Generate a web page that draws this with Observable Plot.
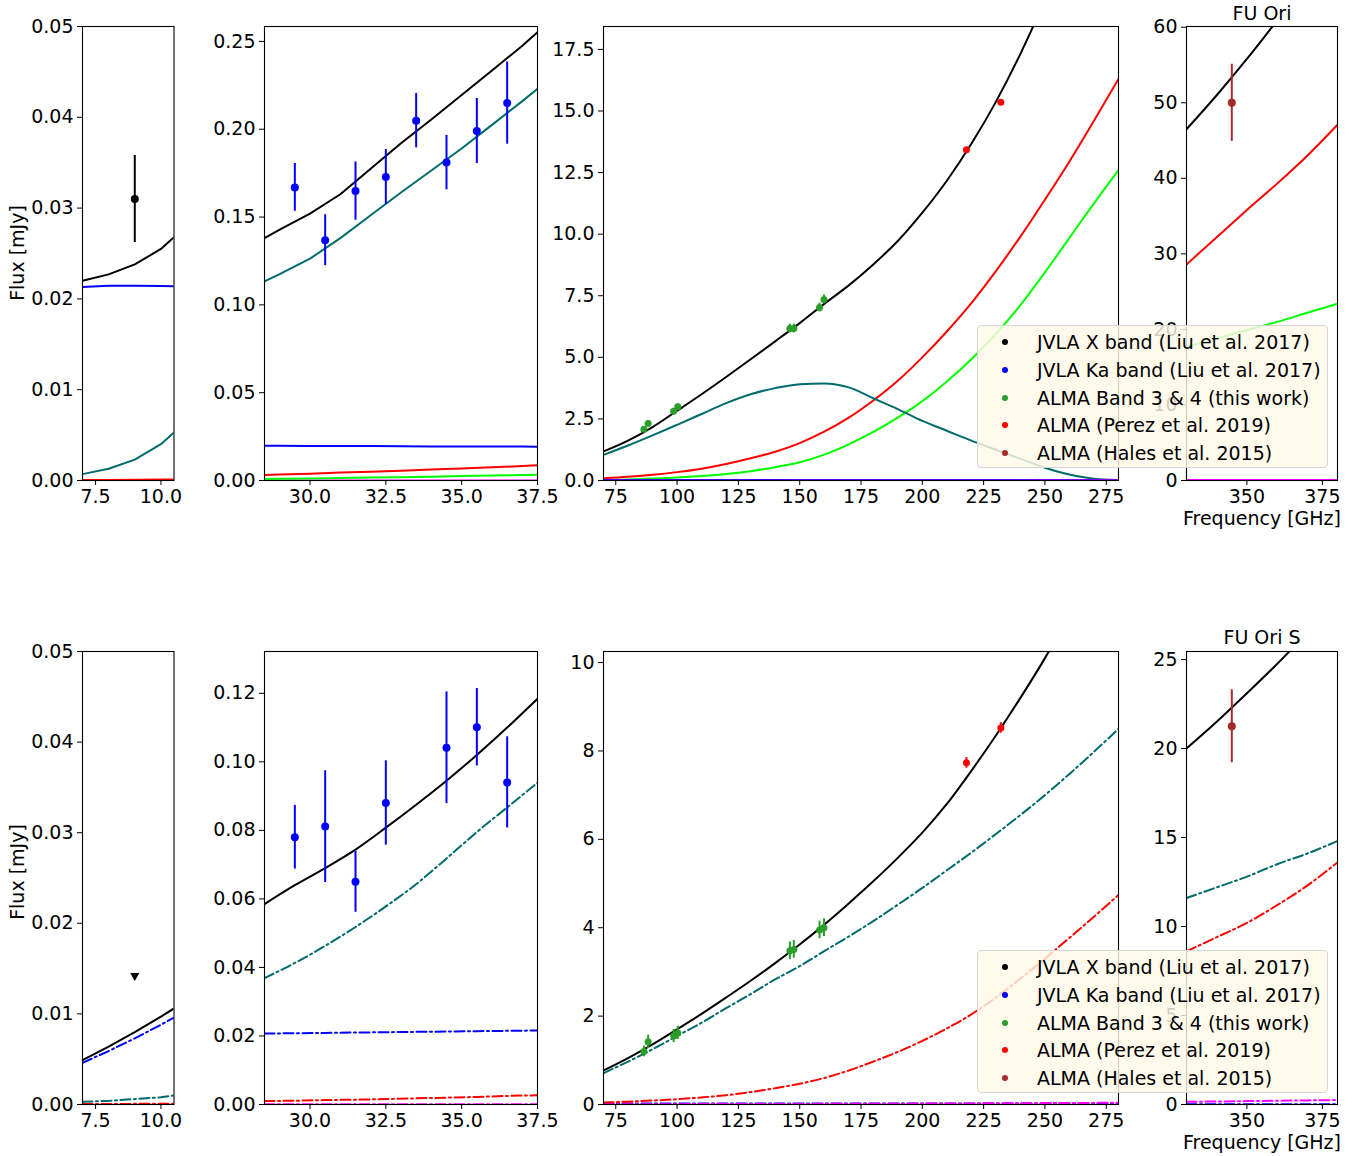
<!DOCTYPE html>
<html><head><meta charset="utf-8">
<script src="https://cdn.jsdelivr.net/npm/d3@7"></script>
<script src="https://cdn.jsdelivr.net/npm/@observablehq/plot@0.6"></script>
<style>
body{margin:0;background:#fff;}
#wrap{position:relative;width:1366px;height:1156px;font-family:"DejaVu Sans",sans-serif;color:#000;overflow:hidden;}
.panel{position:absolute;}
.panel svg{overflow:visible;display:block;max-width:none !important;}
.txt{position:absolute;font-size:19px;white-space:nowrap;transform:translate(-50%,-50%);line-height:1;}
.vtxt{position:absolute;font-size:19px;white-space:nowrap;transform:translate(-50%,-50%) rotate(-90deg);line-height:1;}
.legend{position:absolute;box-sizing:border-box;width:351px;height:143px;background:rgba(255,249,232,0.82);border:1px solid #d6d6d6;border-radius:4px;}
.legend .dot{position:absolute;left:24px;width:6px;height:6px;border-radius:50%;transform:translateY(-50%);}
.legend .lab{position:absolute;left:59px;white-space:nowrap;transform:translateY(-50%);font-size:19px;line-height:1;}
</style></head>
<body><div id="wrap"></div>
<script>
// ---------------- DATA: FU Ori (top row) ----------------
const legendLabels = ["JVLA X band (Liu et al. 2017)", "JVLA Ka band (Liu et al. 2017)", "ALMA Band 3 & 4 (this work)", "ALMA (Perez et al. 2019)", "ALMA (Hales et al. 2015)"];
const legendColors = ["#000000", "#0000ff", "#2a9d2a", "#ff0000", "#a52a2a"];

// Panel A (X band)
const freqA = [7, 8, 9, 10, 10.5];
const totA = [0.0220, 0.0227, 0.0238, 0.0255, 0.0268];
const blueA = [0.02130, 0.02145, 0.02146, 0.02142, 0.02138];
const tealA = [0.0007, 0.0013, 0.0023, 0.0040, 0.0053];
const redA = [0.00005, 0.00006, 0.00008, 0.00010, 0.00011];
const limeA = [0.00001, 0.00002, 0.00002, 0.00003, 0.00003];
const magA = [0, 0, 0, 0, 0];
const ptXA = [9];
const ptYA = [0.031];
const ptEA = [0.0048];

// Panel B (Ka band)
const freqB = [28.5, 29, 30, 31, 32, 33, 34, 35, 36, 37, 37.5];
const totB = [0.138, 0.1428, 0.152, 0.163, 0.1775, 0.192, 0.2055, 0.2195, 0.2335, 0.2475, 0.2553];
const tealB = [0.1134, 0.1175, 0.1263, 0.138, 0.151, 0.164, 0.1765, 0.189, 0.2025, 0.216, 0.223];
const blueB = [0.0198, 0.0198, 0.0197, 0.0196, 0.0196, 0.0195, 0.0194, 0.0194, 0.0193, 0.0193, 0.0192];
const redB = [0.0032, 0.0034, 0.0039, 0.0045, 0.0050, 0.0056, 0.0062, 0.0068, 0.0075, 0.0082, 0.0087];
const limeB = [0.0009, 0.0010, 0.0012, 0.0014, 0.0017, 0.0019, 0.0022, 0.0025, 0.0028, 0.0031, 0.0033];
const magB = [0, 0, 0, 0, 0, 0, 0, 0, 0, 0, 0];
const ptXB = [29.5, 30.5, 31.5, 32.5, 33.5, 34.5, 35.5, 36.5];
const ptYB = [0.1669, 0.1368, 0.1648, 0.1728, 0.2049, 0.1810, 0.1990, 0.2149];
const ptEB = [0.0136, 0.0145, 0.0166, 0.0156, 0.0155, 0.0155, 0.0185, 0.0234];

// Panel C (ALMA bands 3-6)
const freqC = [70, 80, 90, 100, 110, 120, 130, 140, 150, 160, 170, 180, 190, 200, 210, 220, 230, 240, 250, 260, 270, 280];
const totC = [1.18, 1.62, 2.17, 2.83, 3.5, 4.2, 4.92, 5.65, 6.39, 7.17, 7.92, 8.77, 9.72, 10.87, 12.17, 13.67, 15.37, 17.32, 19.52, 21.97, 24.7, 27.7];
const tealC = [1.04, 1.42, 1.83, 2.26, 2.7, 3.14, 3.5, 3.75, 3.91, 3.94, 3.78, 3.34, 2.9, 2.42, 2.02, 1.62, 1.25, 0.88, 0.52, 0.24, 0.07, 0.02];
const redC = [0.09, 0.15, 0.23, 0.34, 0.48, 0.67, 0.9, 1.17, 1.52, 1.98, 2.55, 3.25, 4.05, 5.0, 6.05, 7.2, 8.5, 9.9, 11.4, 12.95, 14.6, 16.3];
const limeC = [0.01, 0.04, 0.08, 0.12, 0.18, 0.26, 0.38, 0.54, 0.74, 1.05, 1.47, 1.97, 2.55, 3.22, 4.02, 4.92, 5.95, 7.12, 8.45, 9.85, 11.25, 12.6];
const blueC = [0.020, 0.020, 0.020, 0.020, 0.019, 0.019, 0.019, 0.019, 0.019, 0.019, 0.018, 0.018, 0.018, 0.018, 0.018, 0.018, 0.018, 0.017, 0.017, 0.017, 0.017, 0.017];
const magC = [0.001, 0.001, 0.002, 0.002, 0.003, 0.003, 0.004, 0.005, 0.006, 0.007, 0.008, 0.009, 0.010, 0.011, 0.012, 0.013, 0.014, 0.015, 0.016, 0.018, 0.019, 0.020];
const grnXC = [86.5, 88.2, 98.6, 100.3, 146, 147.6, 158.1, 159.9];
const grnYC = [2.08, 2.31, 2.81, 2.99, 6.17, 6.17, 7.02, 7.35];
const grnEC = [0.1, 0.12, 0.12, 0.12, 0.18, 0.18, 0.18, 0.18];
const redXC = [218, 232];
const redYC = [13.43, 15.35];
const redEC = [0.1, 0.1];

// Panel D (Band 7)
const freqD = [330, 340, 350, 360, 370, 380];
const totD = [46.5, 51.0, 55.8, 60.9, 66.2, 71.8];
const redD = [28.6, 32.2, 35.8, 39.3, 43.0, 47.1];
const limeD = [17.7, 18.8, 19.9, 21.0, 22.2, 23.4];
const tealD = [0.01, 0.01, 0.01, 0.0, 0.0, 0.0];
const blueD = [0.016, 0.016, 0.016, 0.016, 0.016, 0.016];
const magD = [0.05, 0.05, 0.06, 0.06, 0.07, 0.07];
const brnXD = [345];
const brnYD = [50.0];
const brnED = [5.1];

// ---------------- DATA: FU Ori S (bottom row) ----------------
const freqE = [7, 8, 9, 10, 10.5];
const totE = [0.0049, 0.0064, 0.0080, 0.0097, 0.0106];
const blueE = [0.0046, 0.0059, 0.0073, 0.0088, 0.0096];
const tealE = [0.0003, 0.0004, 0.0006, 0.0008, 0.0010];
const redE = [0.00005, 0.00006, 0.00007, 0.00008, 0.00009];
const magE = [0, 0, 0, 0, 0];
const limXE = [9];
const limYE = [0.0141];

const freqF = [28.5, 29.5, 30.5, 31.5, 32.5, 33.5, 34.5, 35.5, 36.5, 37.5];
const totF = [0.0585, 0.0640, 0.0690, 0.0744, 0.0808, 0.0875, 0.0945, 0.1020, 0.1100, 0.1184];
const tealF = [0.0369, 0.0413, 0.0463, 0.0518, 0.0578, 0.0643, 0.0718, 0.0795, 0.0867, 0.0939];
const blueF = [0.0207, 0.0208, 0.0209, 0.0210, 0.0211, 0.0212, 0.0213, 0.0214, 0.0215, 0.0216];
const redF = [0.0010, 0.0011, 0.0013, 0.0014, 0.0016, 0.0018, 0.0020, 0.0022, 0.0025, 0.0027];
const magF = [0.0001, 0.0001, 0.0001, 0.0001, 0.0001, 0.0001, 0.0001, 0.0001, 0.0001, 0.0001];
const ptXF = [29.5, 30.5, 31.5, 32.5, 34.5, 35.5, 36.5];
const ptYF = [0.0780, 0.0811, 0.0650, 0.0880, 0.1041, 0.1101, 0.0940];
const ptEF = [0.0093, 0.0163, 0.0089, 0.0123, 0.0163, 0.0113, 0.0133];

const freqG = [70, 80, 90, 100, 110, 120, 130, 140, 150, 160, 170, 180, 190, 200, 210, 220, 230, 240, 250, 260, 270, 280];
const totG = [0.77, 1.05, 1.36, 1.70, 2.05, 2.42, 2.8, 3.2, 3.62, 4.07, 4.55, 5.05, 5.58, 6.15, 6.8, 7.55, 8.35, 9.2, 10.1, 11.1, 12.2, 13.4];
const tealG = [0.71, 0.97, 1.25, 1.55, 1.85, 2.18, 2.5, 2.83, 3.13, 3.47, 3.8, 4.15, 4.52, 4.9, 5.3, 5.7, 6.12, 6.55, 7.0, 7.48, 7.98, 8.5];
const redG = [0.045, 0.065, 0.09, 0.12, 0.16, 0.21, 0.28, 0.37, 0.47, 0.6, 0.77, 0.97, 1.19, 1.44, 1.72, 2.04, 2.42, 2.85, 3.3, 3.77, 4.25, 4.74];
const blueG = [0.022, 0.022, 0.022, 0.022, 0.022, 0.022, 0.022, 0.022, 0.021, 0.021, 0.021, 0.021, 0.021, 0.021, 0.021, 0.021, 0.021, 0.021, 0.021, 0.021, 0.021, 0.021];
const magG = [0.005, 0.006, 0.007, 0.008, 0.009, 0.010, 0.011, 0.012, 0.013, 0.015, 0.016, 0.018, 0.019, 0.021, 0.023, 0.025, 0.027, 0.029, 0.032, 0.034, 0.037, 0.040];
const grnXG = [86.5, 88.2, 98.6, 100.3, 146, 147.6, 158.1, 159.9];
const grnYG = [1.20, 1.42, 1.55, 1.62, 3.48, 3.51, 3.95, 4.00];
const grnEG = [0.12, 0.15, 0.15, 0.15, 0.2, 0.2, 0.2, 0.2];
const redXG = [218, 232];
const redYG = [7.73, 8.52];
const redEG = [0.12, 0.12];

const freqH = [330, 340, 350, 360, 370, 380];
const totH = [20.0, 21.5, 23.1, 24.75, 26.5, 28.3];
const tealH = [11.6, 12.2, 12.8, 13.5, 14.1, 14.8];
const redH = [8.6, 9.4, 10.2, 11.2, 12.3, 13.6];
const blueH = [0.02, 0.02, 0.02, 0.02, 0.02, 0.02];
const magH = [0.15, 0.17, 0.19, 0.21, 0.23, 0.25];
const brnXH = [345];
const brnYH = [21.25];
const brnEH = [2.05];

// ---------------- tick labels ----------------
const ticksXA = [7.5, 10.0];
const ticksXB = [30.0, 32.5, 35.0, 37.5];
const ticksXC = [75, 100, 125, 150, 175, 200, 225, 250, 275];
const ticksXD = [350, 375];
const ticksYA = [0, 0.01, 0.02, 0.03, 0.04, 0.05];
const ticksYB = [0, 0.05, 0.10, 0.15, 0.20, 0.25];
const ticksYC = [0, 2.5, 5, 7.5, 10, 12.5, 15, 17.5];
const ticksYD = [0, 10, 20, 30, 40, 50, 60];
const ticksYF = [0, 0.02, 0.04, 0.06, 0.08, 0.10, 0.12];
const ticksYG = [0, 2, 4, 6, 8, 10];
const ticksYH = [0, 5, 10, 15, 20, 25];

// ---------------- rendering ----------------
const C = {black: "#000000", blue: "#0000ff", teal: "#006b6b", red: "#ff0000", lime: "#00ff00", mag: "#ff00ff", green: "#2a9d2a", brown: "#a52a2a"};
const DASHDOT = "10,3.5,2,3.5";
const wrap = document.getElementById("wrap");

function ln(xs, ys, color, opts = {}) {
  return Plot.line(xs, {x: xs, y: ys, stroke: color, strokeWidth: 2, curve: opts.curve || "linear", strokeDasharray: opts.dash || null, clip: true});
}
function pts(xs, ys, es, color, r = 4) {
  const marks = [];
  if (es) marks.push(Plot.ruleX(xs, {x: xs, y1: ys.map((v, i) => v - es[i]), y2: ys.map((v, i) => v + es[i]), stroke: color, strokeWidth: 2, clip: true}));
  marks.push(Plot.dot(xs, {x: xs, y: ys, r, fill: color, stroke: null, clip: true}));
  return marks;
}
const triDown = {draw(ctx, size) { const s = Math.sqrt(size) * 0.95; ctx.moveTo(0, s * 0.55); ctx.lineTo(-s * 0.6, -s * 0.5); ctx.lineTo(s * 0.6, -s * 0.5); ctx.closePath(); }};

function panel(box, xDomain, yDomain, xTicks, yTicks, xFmt, yFmt, marks) {
  const mL = 70, mR = 30, mT = 12, mB = 45;
  const w = box.r - box.l, h = box.b - box.t;
  const svg = Plot.plot({
    width: w + mL + mR, height: h + mT + mB,
    marginLeft: mL, marginRight: mR, marginTop: mT, marginBottom: mB,
    style: {fontFamily: "'DejaVu Sans', sans-serif", fontSize: "19px", background: "transparent", color: "#000", overflow: "visible", maxWidth: "none"},
    x: {domain: xDomain, ticks: xTicks, tickFormat: d3.format(xFmt), tickSize: 5, tickPadding: 4, label: null},
    y: {domain: yDomain, ticks: yTicks, tickFormat: d3.format(yFmt), tickSize: 5, tickPadding: 4, label: null},
    marks: [...marks, Plot.frame({stroke: "#000", strokeWidth: 1.1})]
  });
  svg.style.maxWidth = "none";
  svg.style.width = (w + mL + mR) + "px";
  svg.style.height = (h + mT + mB) + "px";
  const div = document.createElement("div");
  div.className = "panel";
  div.style.left = (box.l - mL) + "px";
  div.style.top = (box.t - mT) + "px";
  div.style.width = (w + mL + mR) + "px";
  div.style.height = (h + mT + mB) + "px";
  div.appendChild(svg);
  wrap.appendChild(div);
}

const TT = 26, TB = 480, BT = 651, BB = 1104;
const XA = {l: 82, r: 173.5}, XB = {l: 263.5, r: 536.5}, XC = {l: 603, r: 1118}, XD = {l: 1186, r: 1337};

// Top row
panel({...XA, t: TT, b: TB}, [7, 10.5], [0, 0.05], ticksXA, ticksYA, ".1f", ".2f", [
  ln(freqA, magA, C.mag), ln(freqA, limeA, C.lime), ln(freqA, redA, C.red), ln(freqA, blueA, C.blue), ln(freqA, tealA, C.teal), ln(freqA, totA, C.black),
  ...pts(ptXA, ptYA, ptEA, C.black)
]);
panel({...XB, t: TT, b: TB}, [28.5, 37.5], [0, 0.2585], ticksXB, ticksYB, ".1f", ".2f", [
  ln(freqB, magB, C.mag), ln(freqB, limeB, C.lime), ln(freqB, redB, C.red), ln(freqB, blueB, C.blue), ln(freqB, tealB, C.teal), ln(freqB, totB, C.black),
  ...pts(ptXB, ptYB, ptEB, C.blue)
]);
panel({...XC, t: TT, b: TB}, [70, 280], [0, 18.43], ticksXC, ticksYC, "d", ".1f", [
  ln(freqC, limeC, C.lime, {curve: "monotone-x"}), ln(freqC, redC, C.red, {curve: "monotone-x"}), ln(freqC, tealC, C.teal, {curve: "monotone-x"}),
  ln(freqC, blueC, C.blue), ln(freqC, magC, "#8a00ff"), ln(freqC, totC, C.black, {curve: "monotone-x"}),
  ...pts(grnXC, grnYC, grnEC, C.green, 3.5), ...pts(redXC, redYC, redEC, C.red, 3.5)
]);
panel({...XD, t: TT, b: TB}, [330, 380], [0, 60.1], ticksXD, ticksYD, "d", "d", [
  ln(freqD, tealD, C.teal), ln(freqD, blueD, C.blue), ln(freqD, magD, C.mag),
  ln(freqD, limeD, C.lime, {curve: "monotone-x"}), ln(freqD, redD, C.red, {curve: "monotone-x"}), ln(freqD, totD, C.black, {curve: "monotone-x"}),
  ...pts(brnXD, brnYD, brnED, C.brown, 4)
]);

// Bottom row
panel({...XA, t: BT, b: BB}, [7, 10.5], [0, 0.05], ticksXA, ticksYA, ".1f", ".2f", [
  ln(freqE, magE, C.mag, {dash: DASHDOT}), ln(freqE, redE, C.red, {dash: DASHDOT}), ln(freqE, tealE, C.teal, {dash: DASHDOT}),
  ln(freqE, totE, C.black), ln(freqE, blueE, C.blue, {dash: DASHDOT}),
  Plot.dot(limXE, {x: limXE, y: limYE, symbol: triDown, r: 4.5, fill: C.black, stroke: null})
]);
panel({...XB, t: BT, b: BB}, [28.5, 37.5], [0, 0.1322], ticksXB, ticksYF, ".1f", ".2f", [
  ln(freqF, magF, C.mag, {dash: DASHDOT}), ln(freqF, redF, C.red, {dash: DASHDOT}), ln(freqF, blueF, C.blue, {dash: DASHDOT}),
  ln(freqF, tealF, C.teal, {dash: DASHDOT, curve: "monotone-x"}), ln(freqF, totF, C.black, {curve: "monotone-x"}),
  ...pts(ptXF, ptYF, ptEF, C.blue)
]);
panel({...XC, t: BT, b: BB}, [70, 280], [0, 10.25], ticksXC, ticksYG, "d", "d", [
  ln(freqG, blueG, C.blue, {dash: DASHDOT}), ln(freqG, magG, C.mag, {dash: DASHDOT}),
  ln(freqG, redG, C.red, {dash: DASHDOT, curve: "monotone-x"}), ln(freqG, tealG, C.teal, {dash: DASHDOT, curve: "monotone-x"}),
  ln(freqG, totG, C.black, {curve: "monotone-x"}),
  ...pts(grnXG, grnYG, grnEG, C.green, 3.5), ...pts(redXG, redYG, redEG, C.red, 3.5)
]);
panel({...XD, t: BT, b: BB}, [330, 380], [0, 25.45], ticksXD, ticksYH, "d", "d", [
  ln(freqH, blueH, C.blue, {dash: DASHDOT}), ln(freqH, magH, C.mag, {dash: DASHDOT}),
  ln(freqH, redH, C.red, {dash: DASHDOT, curve: "monotone-x"}), ln(freqH, tealH, C.teal, {dash: DASHDOT, curve: "monotone-x"}),
  ln(freqH, totH, C.black, {curve: "monotone-x"}),
  ...pts(brnXH, brnYH, brnEH, C.brown, 4)
]);

// Texts
function txt(s, x, y, cls = "txt") {
  const d = document.createElement("div");
  d.className = cls; d.textContent = s;
  d.style.left = x + "px"; d.style.top = y + "px";
  wrap.appendChild(d);
}
txt("FU Ori", 1262, 13);
txt("FU Ori S", 1262, 637);
txt("Frequency [GHz]", 1262, 518);
txt("Frequency [GHz]", 1262, 1142);
txt("Flux [mJy]", 17, 253, "vtxt");
txt("Flux [mJy]", 17, 872, "vtxt");

// Legends
function legend(left, top) {
  const L = document.createElement("div");
  L.className = "legend";
  L.style.left = left + "px"; L.style.top = top + "px";
  legendLabels.forEach((lab, i) => {
    const y = 16 + i * 27.75;
    const dot = document.createElement("div");
    dot.className = "dot"; dot.style.top = y + "px"; dot.style.background = legendColors[i];
    const t = document.createElement("div");
    t.className = "lab"; t.style.top = y + "px"; t.textContent = lab;
    L.appendChild(dot); L.appendChild(t);
  });
  wrap.appendChild(L);
}
legend(977, 325);
legend(977, 950);
</script>
</body></html>
